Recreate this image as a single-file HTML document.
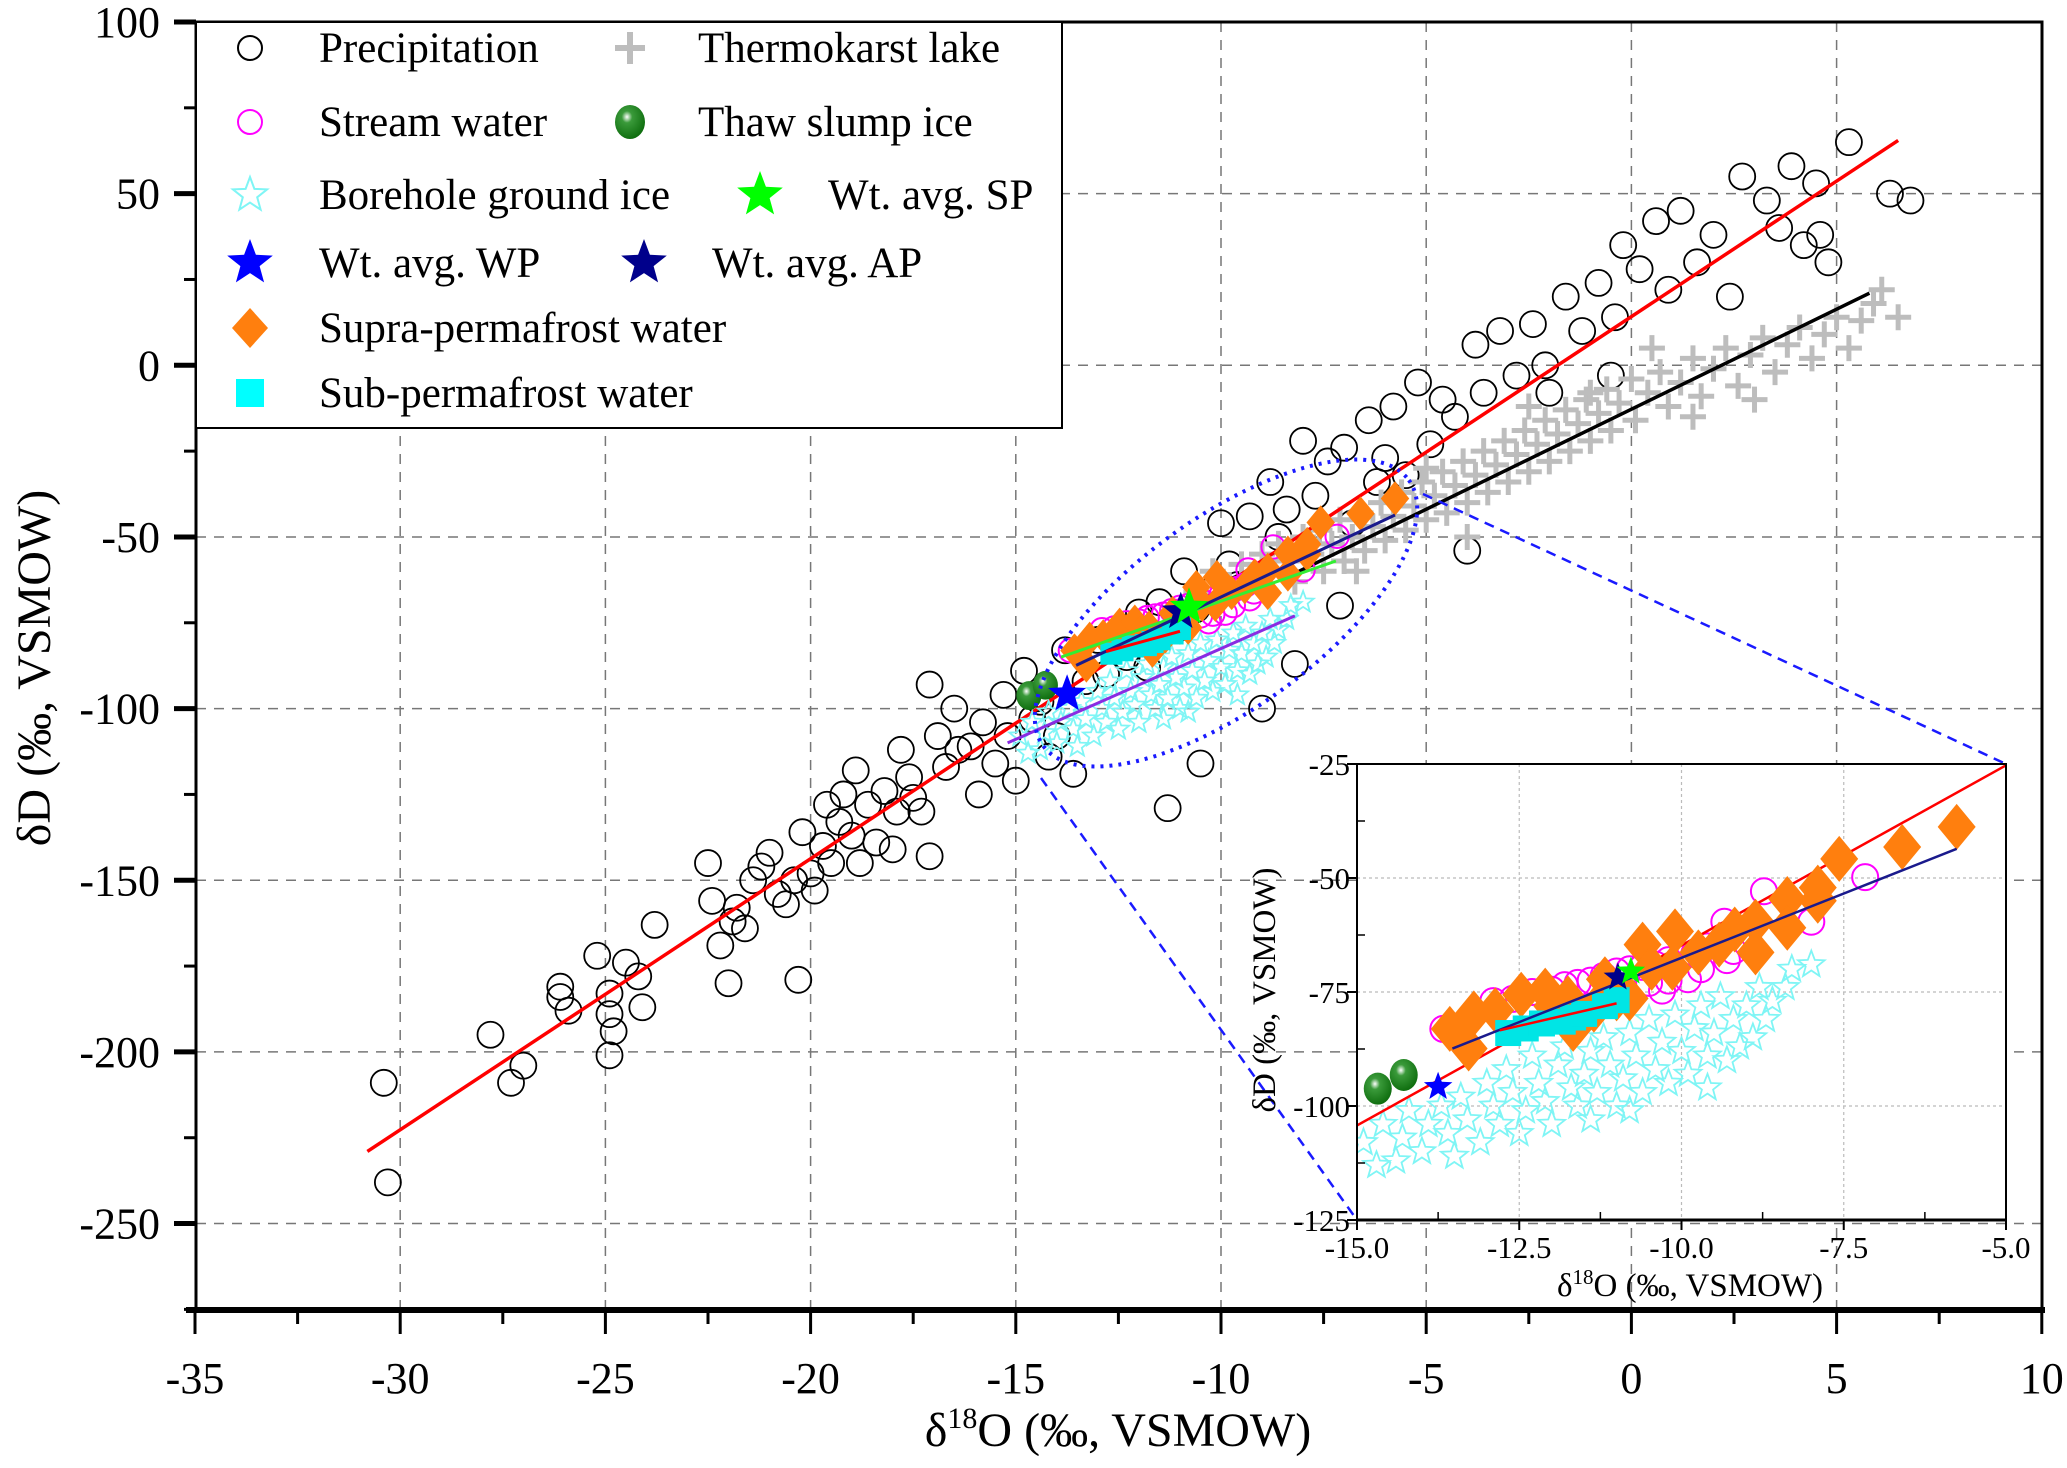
<!DOCTYPE html>
<html><head><meta charset="utf-8"><style>
html,body{margin:0;padding:0;background:#fff;width:2067px;height:1468px;overflow:hidden}
svg{display:block;font-family:"Liberation Serif",serif}
</style></head><body>
<svg id="c" width="2067" height="1468" viewBox="0 0 2067 1468" xmlns="http://www.w3.org/2000/svg">
<defs>
<clipPath id="mainclip"><rect x="196" y="22" width="1846" height="1288"/></clipPath>
<clipPath id="insclip"><rect x="1357" y="764" width="649" height="456"/></clipPath>
<radialGradient id="gball" cx="0.4" cy="0.35" r="0.7"><stop offset="0" stop-color="#fff"/><stop offset="0.25" stop-color="#3a9a3a"/><stop offset="1" stop-color="#0b6a0b"/></radialGradient>
</defs>
<g id="main"></g>
<g id="inset"></g>
<g id="legend"></g>
</svg>
<script>
const precipX=[-30.4,-30.3,-27.8,-27.3,-27,-26.1,-26.1,-25.9,-25.2,-24.9,-24.9,-24.9,-24.8,-24.5,-24.2,-24.1,-23.8,-22.5,-22.4,-22.2,-22,-21.9,-21.8,-21.6,-21.4,-21.2,-21,-20.8,-20.6,-20.4,-20.3,-20.2,-20,-19.9,-19.7,-19.6,-19.5,-19.3,-19.2,-19,-18.9,-18.8,-18.6,-18.4,-18.2,-18,-17.9,-17.8,-17.6,-17.5,-17.3,-17.1,-17.1,-16.9,-16.7,-16.5,-16.4,-16.1,-15.9,-15.8,-15.5,-15.3,-15.2,-15,-14.8,-14.6,-14.4,-14.2,-14,-13.8,-13.6,-13.3,-13,-12.5,-12.3,-12,-11.8,-11.5,-11.3,-11.1,-10.9,-10.6,-10.5,-10.3,-10,-9.8,-9.6,-9.3,-9.1,-9,-8.8,-8.6,-8.4,-8.2,-8,-7.7,-7.4,-7.1,-7,-6.8,-6.4,-6.2,-6,-5.8,-5.5,-5.2,-4.9,-4.6,-4.3,-4,-3.8,-3.6,-3.2,-2.8,-2.4,-2.1,-1.6,-1.2,-0.8,-0.4,-0.2,0.2,0.6,0.9,1.2,1.6,2,2.4,2.7,3.3,3.6,3.9,4.2,4.5,4.6,4.8,5.3,6.3,6.8,-2,-0.5,-12.8,-14.5];
const precipY=[-209,-238,-195,-209,-204,-181,-184,-188,-172,-183,-189,-201,-194,-174,-178,-187,-163,-145,-156,-169,-180,-162,-158,-164,-150,-146,-142,-154,-157,-150,-179,-136,-148,-153,-140,-128,-145,-133,-125,-137,-118,-145,-128,-139,-124,-141,-130,-112,-120,-126,-130,-143,-93,-108,-117,-100,-112,-111,-125,-104,-116,-96,-108,-121,-89,-103,-98,-114,-108,-83,-119,-92,-80,-78,-85,-72,-88,-69,-129,-77,-60,-71,-116,-66,-46,-58,-64,-44,-62,-100,-34,-50,-42,-87,-22,-38,-28,-70,-24,-46,-16,-34,-27,-12,-32,-5,-23,-10,-15,-54,6,-8,10,-3,12,0,20,10,24,14,35,28,42,22,45,30,38,20,55,48,40,58,35,53,38,30,65,50,48,-8,-3,-90,-97];
const lakeX=[-10.6,-10.2,-9.8,-9.5,-9.2,-9,-8.8,-8.6,-8.4,-8.2,-8,-7.8,-7.6,-7.5,-7.3,-7.1,-7,-6.8,-6.6,-6.5,-6.3,-6.1,-6,-5.8,-5.6,-5.5,-5.3,-5.1,-5,-4.8,-4.6,-4.5,-4.3,-4.1,-4,-3.8,-3.6,-3.5,-3.3,-3.1,-3,-2.8,-2.6,-2.5,-2.3,-2.1,-2,-1.8,-1.6,-1.5,-1.3,-1.1,-1,-0.8,-0.6,-0.5,-0.3,0,0.1,0.4,0.7,0.9,1.2,1.5,1.7,2,2.3,2.6,2.9,3.2,3.5,3.8,4.1,4.4,4.7,5,5.3,5.6,5.9,6.5,6.1,-1,1.5,-5,-6.7,3,-2.5,0.5,-4];
const lakeY=[-66,-60,-64,-58,-62,-55,-60,-52,-57,-63,-50,-55,-48,-60,-52,-45,-57,-50,-43,-54,-47,-40,-51,-44,-37,-48,-41,-34,-45,-38,-31,-43,-35,-28,-40,-32,-25,-37,-29,-22,-34,-26,-19,-31,-23,-16,-28,-20,-13,-25,-17,-10,-22,-14,-7,-19,-11,-4,-16,-8,-2,-12,-5,2,-9,-1,5,-6,3,8,-2,6,11,2,9,14,5,13,18,14,22,-8,-15,-30,-60,-10,-12,5,-50];
const streamX=[-13.67,-8.73,-7.17,-8.0,-9.34,-9.3,-9.9,-10.3,-12.9,-12.6,-12.3,-12,-11.8,-11.6,-11.4,-11.2,-11,-10.8,-10.6,-10.4,-10.2,-10,-9.8,-9.6,-9.4,-10.2,-10.5,-9.7,-9.2];
const streamY=[-83.1,-52.9,-49.8,-59.6,-59.6,-68,-72.2,-74.7,-77,-76.5,-75,-74.5,-73.5,-73,-72.5,-71.5,-70.5,-70,-69.5,-69,-68,-67,-66.5,-65,-64,-72.5,-73,-70,-66];
const boreX=[-14.7,-14.9,-14.6,-14.3,-14.2,-14.0,-13.9,-13.7,-13.6,-13.4,-13.3,-13.1,-13.0,-12.9,-12.8,-12.7,-12.6,-12.4,-12.3,-12.2,-12.1,-12.0,-11.9,-11.8,-11.7,-11.6,-11.5,-11.4,-11.3,-11.2,-11.1,-11.0,-10.9,-10.8,-10.7,-10.6,-10.5,-10.4,-10.3,-10.2,-10.1,-10.0,-9.9,-9.8,-9.7,-9.6,-9.5,-9.4,-9.3,-9.2,-9.1,-9.0,-8.9,-8.8,-8.7,-8.6,-8.4,-8.3,-8.0,-9.6,-11.4,-12.5,-13.5,-14.4,-10.8];
const boreY=[-113,-108,-104,-107,-101,-110,-104,-100,-106,-98,-103,-108,-95,-100,-104,-92,-97,-101,-89,-95,-99,-104,-91,-87,-96,-100,-93,-88,-97,-85,-91,-100,-94,-84,-89,-97,-81,-92,-86,-95,-80,-88,-93,-83,-78,-89,-84,-76,-90,-81,-87,-78,-85,-74,-81,-77,-74,-70,-69,-96,-103,-106,-111,-112,-101];
const supraX=[-13.57,-13.2,-13.28,-12.47,-12.1,-11.75,-11.67,-11.35,-11.0,-10.8,-10.6,-10.46,-10.14,-10.1,-9.74,-9.42,-9.18,-8.86,-8.86,-8.37,-8.37,-7.9,-7.9,-7.57,-6.6,-5.76,-11.18,-11.99,-12.87];
const supraY=[-83.1,-79.7,-87.4,-75.6,-74.7,-76.4,-83.1,-78.9,-76.4,-76.4,-64.6,-69.7,-69.7,-61.7,-66.3,-64.6,-61.3,-59.6,-66.3,-54.6,-60.9,-52.1,-55,-45.8,-43.2,-38.8,-72.2,-78.1,-79];
const subX=[-12.67,-12.4,-12.15,-11.83,-11.67,-11.5,-11.18,-11.0];
const subY=[-84,-83,-81.9,-81.5,-80.6,-79.8,-78.1,-76.8];
const slumpX=[-14.68,-14.28];
const slumpY=[-96.2,-93.2];
const avgNames=['wt-avg-wp','wt-avg-ap','wt-avg-sp'];
const avgX=[-13.75,-10.98,-10.78];
const avgY=[-95.8,-71.8,-70.5];
const avgColors=['#0000ff','#00008b','#00ff00'];
const xTicks=[-35,-30,-25,-20,-15,-10,-5,0,5,10];
const yTicks=[100,50,0,-50,-100,-150,-200,-250];
const insXTicks=[-15,-12.5,-10,-7.5,-5];
const insXLabels=['-15.0','-12.5','-10.0','-7.5','-5.0'];
const insYTicks=[-25,-50,-75,-100,-125];
const lmwl=[-30.8,-229,6.5,65.5];
const lakeLine=[-8.1,-60,5.8,21];
const boreLine=[-15.2,-110,-8.2,-73];
const streamLine=[-13.9,-85,-7.2,-57];
const supraLine=[-13.53,-87.4,-5.76,-43.6];
const subLine=[-12.8,-83.4,-11.0,-77.5];

const NS='http://www.w3.org/2000/svg';
function mk(parent,tag,attrs){const e=document.createElementNS(NS,tag);for(const k in attrs)e.setAttribute(k,attrs[k]);parent.appendChild(e);return e;}
const X=v=>195+(v+35)*41.04;
const Y=v=>22+(100-v)*3.433;
const IX=v=>1357+(v+15)*64.9;
const IY=v=>764+(-25-v)*4.56;
function starPts(cx,cy,r){let p=[];for(let i=0;i<10;i++){const a=-Math.PI/2+i*Math.PI/5;const rr=i%2?r*0.42:r;p.push((cx+rr*Math.cos(a)).toFixed(1)+','+(cy+rr*Math.sin(a)).toFixed(1));}return p.join(' ');}

const main=document.getElementById('main');
const grid=mk(main,'g',{});


xTicks.slice(1,-1).forEach(t=>{mk(grid,'line',{x1:X(t),x2:X(t),y1:22,y2:1310,stroke:'#777','stroke-width':1.5,'stroke-dasharray':'10,8'});});
yTicks.slice(1).forEach(t=>{mk(grid,'line',{x1:196,x2:2042,y1:Y(t),y2:Y(t),stroke:'#777','stroke-width':1.5,'stroke-dasharray':'10,8'});});

const plot=mk(main,'g',{'clip-path':'url(#mainclip)'});
function drawSeries(g,xs,ys,fx,fy,kind,name,sc){
  const grp=mk(g,'g',{});
  
  
  xs.forEach((x,i)=>{const cx=fx(x),cy=fy(ys[i]);let e;
    if(kind==='circle')e=mk(grp,'circle',{cx,cy,r:13*sc,fill:'none',stroke:'#000','stroke-width':1.8});
    else if(kind==='mcircle')e=mk(grp,'circle',{cx,cy,r:13*sc,fill:'none',stroke:'#ff00ff','stroke-width':2});
    else if(kind==='cross'){e=mk(grp,'path',{d:`M${cx-13*sc},${cy}h${26*sc}M${cx},${cy-13*sc}v${26*sc}`,stroke:'#bdbdbd','stroke-width':5*sc});}
    else if(kind==='star')e=mk(grp,'polygon',{points:starPts(cx,cy,14*sc),fill:'none',stroke:'#7ff5f5','stroke-width':1.8});
    else if(kind==='diamond')e=mk(grp,'polygon',{points:`${cx},${cy-23*sc} ${cx+19*sc},${cy} ${cx},${cy+23*sc} ${cx-19*sc},${cy}`,fill:'#ff7f0e'});
    else if(kind==='square')e=mk(grp,'rect',{x:cx-13*sc,y:cy-13*sc,width:26*sc,height:26*sc,fill:'#00e5e5'});
    else if(kind==='ball')e=mk(grp,'ellipse',{cx,cy,rx:14*sc,ry:16*sc,fill:'url(#gball)'});
    
    
  });
}
function drawLine(g,L,fx,fy,color,w,name){const e=mk(g,'line',{x1:fx(L[0]),y1:fy(L[1]),x2:fx(L[2]),y2:fy(L[3]),stroke:color,'stroke-width':w});
  
  }
function drawAvg(g,fx,fy,sc){avgX.forEach((x,i)=>{const e=mk(g,'polygon',{points:starPts(fx(x),fy(avgY[i]),20*sc),fill:avgColors[i]});
  
  });}

drawSeries(plot,precipX,precipY,X,Y,'circle','precipitation',1);
drawSeries(plot,lakeX,lakeY,X,Y,'cross','thermokarst-lake',1);
drawLine(plot,lmwl,X,Y,'#ff0000',3.5,'lmwl-line');
drawLine(plot,lakeLine,X,Y,'#000',3.5,'lake-line');
drawSeries(plot,boreX,boreY,X,Y,'star','borehole-ground-ice',0.8);
drawSeries(plot,streamX,streamY,X,Y,'mcircle','stream-water',0.9);
drawSeries(plot,supraX,supraY,X,Y,'diamond','supra-permafrost-water',0.75);
drawSeries(plot,subX,subY,X,Y,'square','sub-permafrost-water',0.85);
drawSeries(plot,slumpX,slumpY,X,Y,'ball','thaw-slump-ice',0.9);
drawLine(plot,boreLine,X,Y,'#8a2be2',3,'borehole-line');
drawLine(plot,streamLine,X,Y,'#33ee33',3,'stream-line');
drawLine(plot,supraLine,X,Y,'#1a1a8c',3,'supra-line');
drawLine(plot,subLine,X,Y,'#ff0000',3,'sub-line');
drawAvg(plot,X,Y,1);
let el=mk(main,'ellipse',{cx:1226,cy:613,rx:226,ry:95,transform:'rotate(-36 1226 613)',fill:'none',stroke:'#1a1aff','stroke-width':4,'stroke-dasharray':'3,6'});


let zl=mk(main,'line',{x1:1423,y1:494,x2:2006,y2:764,stroke:'#1a1aff','stroke-width':2.5,'stroke-dasharray':'10,7'});


zl=mk(main,'line',{x1:1041,y1:778,x2:1357,y2:1220,stroke:'#1a1aff','stroke-width':2.5,'stroke-dasharray':'10,7'});


const ax=mk(main,'g',{});


mk(ax,'rect',{x:196,y:22,width:1846,height:1288,fill:'none',stroke:'#000','stroke-width':3});
mk(ax,'line',{x1:186,x2:2045,y1:1310,y2:1310,stroke:'#000','stroke-width':6});
xTicks.forEach((t,i)=>{mk(ax,'line',{x1:X(t),x2:X(t),y1:1310,y2:1334,stroke:'#000','stroke-width':3});
  if(i<xTicks.length-1)mk(ax,'line',{x1:X(t+2.5),x2:X(t+2.5),y1:1310,y2:1324,stroke:'#000','stroke-width':3});
  const tx=mk(ax,'text',{x:X(t),y:1393,'font-size':44,'text-anchor':'middle'});tx.textContent=t;
  
  });
yTicks.forEach(t=>{mk(ax,'line',{x1:174,x2:196,y1:Y(t),y2:Y(t),stroke:'#000','stroke-width':5});
  mk(ax,'line',{x1:184,x2:196,y1:Y(t-25),y2:Y(t-25),stroke:'#000','stroke-width':3});
  const tx=mk(ax,'text',{x:160,y:Y(t)+15,'font-size':44,'text-anchor':'end'});tx.textContent=t;
  
  });
let t1=mk(ax,'text',{x:1118,y:1446,'font-size':48,'text-anchor':'middle'});
t1.innerHTML='δ<tspan dy="-18" font-size="30">18</tspan><tspan dy="18">O (‰, VSMOW)</tspan>';


let t2=mk(ax,'text',{x:0,y:0,'font-size':48,'text-anchor':'middle',transform:'translate(50 668) rotate(-90)'});
t2.textContent='δD (‰, VSMOW)';



const ins=document.getElementById('inset');
mk(ins,'rect',{x:1357,y:764,width:649,height:456,fill:'#fff'});
insXTicks.slice(1,-1).forEach(t=>mk(ins,'line',{x1:IX(t),x2:IX(t),y1:764,y2:1220,stroke:'#bbb','stroke-width':1.2,'stroke-dasharray':'3,3'}));
insYTicks.slice(1,-1).forEach(t=>mk(ins,'line',{x1:1357,x2:2006,y1:IY(t),y2:IY(t),stroke:'#bbb','stroke-width':1.2,'stroke-dasharray':'3,3'}));
const ip=mk(ins,'g',{'clip-path':'url(#insclip)'});
drawSeries(ip,boreX,boreY,IX,IY,'star','inset-borehole-ground-ice',1);
drawSeries(ip,streamX,streamY,IX,IY,'mcircle','inset-stream-water',1);
drawLine(ip,lmwl,IX,IY,'#ff0000',2.5,'inset-lmwl-line');
drawSeries(ip,supraX,supraY,IX,IY,'diamond','inset-supra-permafrost-water',1);
drawSeries(ip,subX,subY,IX,IY,'square','inset-sub-permafrost-water',1);
drawSeries(ip,slumpX,slumpY,IX,IY,'ball','inset-thaw-slump-ice',1);
drawLine(ip,supraLine,IX,IY,'#1a1a8c',2.5,'inset-supra-line');
drawLine(ip,subLine,IX,IY,'#ff0000',2.5,'inset-sub-line');
drawAvg(ip,IX,IY,0.75);
mk(ins,'rect',{x:1357,y:764,width:649,height:456,fill:'none',stroke:'#000','stroke-width':2});
mk(ins,'line',{x1:1357,x2:2006,y1:1220,y2:1220,stroke:'#000','stroke-width':3});
insXTicks.forEach((t,i)=>{mk(ins,'line',{x1:IX(t),x2:IX(t),y1:1220,y2:1230,stroke:'#000','stroke-width':2});
  if(i<insXTicks.length-1)mk(ins,'line',{x1:IX(t+1.25),x2:IX(t+1.25),y1:1212,y2:1220,stroke:'#000','stroke-width':1.5});
  const tx=mk(ins,'text',{x:IX(t),y:1258,'font-size':31,'text-anchor':'middle'});tx.textContent=insXLabels[i];
  
  });
insYTicks.forEach((t,i)=>{mk(ins,'line',{x1:1347,x2:1357,y1:IY(t),y2:IY(t),stroke:'#000','stroke-width':2});
  if(i<insYTicks.length-1)mk(ins,'line',{x1:1357,x2:1365,y1:IY(t-12.5),y2:IY(t-12.5),stroke:'#000','stroke-width':1.5});
  const tx=mk(ins,'text',{x:1350,y:IY(t)+11,'font-size':31,'text-anchor':'end'});tx.textContent=t;
  
  });
let t3=mk(ins,'text',{x:1690,y:1296,'font-size':33,'text-anchor':'middle'});
t3.innerHTML='δ<tspan dy="-12" font-size="21">18</tspan><tspan dy="12">O (‰, VSMOW)</tspan>';


let t4=mk(ins,'text',{x:0,y:0,'font-size':33,'text-anchor':'middle',transform:'translate(1275 990) rotate(-90)'});
t4.textContent='δD (‰, VSMOW)';



const lg=document.getElementById('legend');
mk(lg,'rect',{x:196,y:22,width:866,height:406,fill:'#fff',stroke:'#000','stroke-width':2});
const entries=[
 [250,48,'circle','Precipitation',319],[630,48,'cross','Thermokarst lake',698],
 [250,122,'mcircle','Stream water',319],[630,122,'ball','Thaw slump ice',698],
 [250,195,'star','Borehole ground ice',319],[760,195,'sp','Wt. avg. SP',828],
 [250,263,'wp','Wt. avg. WP',319],[644,263,'ap','Wt. avg. AP',712],
 [250,328,'diamond','Supra-permafrost water',319],
 [250,393,'square','Sub-permafrost water',319]];
entries.forEach(en=>{const [mx,my,k,label,tx]=en;const g=mk(lg,'g',{});
  
  
  if(k==='circle')mk(g,'circle',{cx:mx,cy:my,r:12,fill:'none',stroke:'#000','stroke-width':2});
  else if(k==='mcircle')mk(g,'circle',{cx:mx,cy:my,r:12,fill:'none',stroke:'#ff00ff','stroke-width':2});
  else if(k==='cross')mk(g,'path',{d:`M${mx-15},${my}h30M${mx},${my-16}v32`,stroke:'#bdbdbd','stroke-width':6});
  else if(k==='ball')mk(g,'ellipse',{cx:mx,cy:my,rx:15,ry:17,fill:'url(#gball)'});
  else if(k==='star')mk(g,'polygon',{points:starPts(mx,my,18),fill:'none',stroke:'#7ff5f5','stroke-width':2});
  else if(k==='sp')mk(g,'polygon',{points:starPts(mx,my,24),fill:'#00ff00'});
  else if(k==='wp')mk(g,'polygon',{points:starPts(mx,my,24),fill:'#0000ff'});
  else if(k==='ap')mk(g,'polygon',{points:starPts(mx,my,24),fill:'#00008b'});
  else if(k==='diamond')mk(g,'polygon',{points:`${mx},${my-20} ${mx+18},${my} ${mx},${my+20} ${mx-18},${my}`,fill:'#ff7f0e'});
  else if(k==='square')mk(g,'rect',{x:mx-14,y:my-14,width:28,height:28,fill:'#00ffff'});
  const t=mk(g,'text',{x:tx,y:my+14,'font-size':43});t.textContent=label;});
</script>
</body></html>
